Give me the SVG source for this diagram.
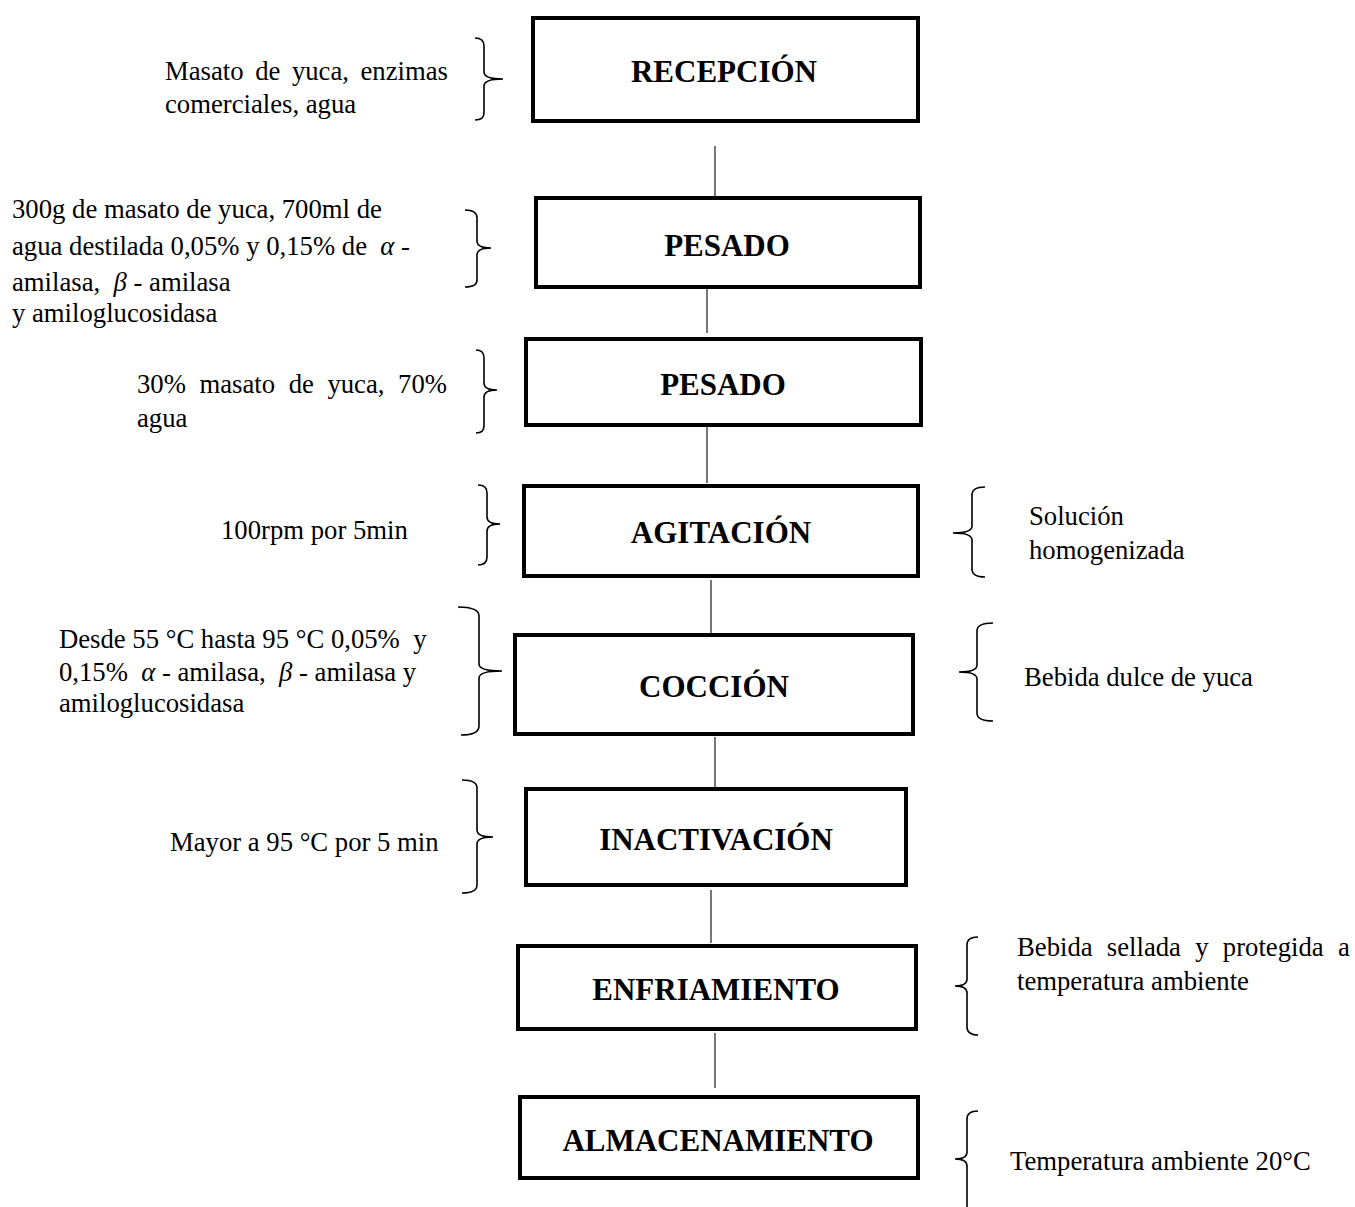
<svg xmlns="http://www.w3.org/2000/svg" width="1355" height="1207" viewBox="0 0 1355 1207">
<style>
.box{fill:#fff;stroke:#000;stroke-width:4}
.ttl{font-family:"Liberation Serif","Times New Roman",serif;font-weight:bold;font-size:31px;fill:#000;text-anchor:middle}
.ann{font-family:"Liberation Serif","Times New Roman",serif;font-size:26.7px;fill:#000;white-space:pre}
.gr{font-style:italic}
.brace{fill:none;stroke:#000;stroke-width:1.6}
.conn{stroke:#555;stroke-width:1.6}
</style>
<rect width="1355" height="1207" fill="#fff"/>
<g id="connectors">
<line class="conn" x1="715" y1="146" x2="715" y2="201"/>
<line class="conn" x1="707" y1="278" x2="707" y2="333"/>
<line class="conn" x1="707" y1="427" x2="707" y2="483"/>
<line class="conn" x1="711" y1="580" x2="711" y2="633"/>
<line class="conn" x1="715" y1="737" x2="715" y2="787"/>
<line class="conn" x1="711" y1="890" x2="711" y2="943"/>
<line class="conn" x1="715" y1="1033" x2="715" y2="1088"/>
</g>
<g id="n1"><rect class="box" x="533" y="18" width="385" height="103"/><text class="ttl" x="724" y="82">RECEPCIÓN</text></g>
<g id="n2"><rect class="box" x="536" y="198" width="384" height="89"/><text class="ttl" x="727" y="256">PESADO</text></g>
<g id="n3"><rect class="box" x="526" y="339" width="395" height="86"/><text class="ttl" x="723" y="395">PESADO</text></g>
<g id="n4"><rect class="box" x="524" y="486" width="394" height="90"/><text class="ttl" x="721" y="543">AGITACIÓN</text></g>
<g id="n5"><rect class="box" x="515" y="635" width="398" height="99"/><text class="ttl" x="714" y="697">COCCIÓN</text></g>
<g id="n6"><rect class="box" x="526" y="789" width="380" height="96"/><text class="ttl" x="716" y="850">INACTIVACIÓN</text></g>
<g id="n7"><rect class="box" x="518" y="946" width="398" height="83"/><text class="ttl" x="716" y="1000">ENFRIAMIENTO</text></g>
<g id="n8"><rect class="box" x="520" y="1097" width="398" height="81"/><text class="ttl" x="718" y="1151">ALMACENAMIENTO</text></g>
<g id="a1">
<path class="brace" d="M475,38 Q484,38 484,46 L484,72 Q484,79 503,79 Q484,79 484,86 L484,113 Q484,120 475,120"/>
<text class="ann" x="165" y="80" word-spacing="4.9">Masato de yuca, enzimas</text>
<text class="ann" x="165" y="113">comerciales, agua</text>
</g>
<g id="a2">
<path class="brace" d="M465,210 Q477,210 477,218 L477,241 Q477,248 491,248 Q477,248 477,255 L477,280 Q477,287 465,287"/>
<text class="ann" x="12" y="218">300g de masato de yuca, 700ml de</text>
<text class="ann" x="12" y="255">agua destilada 0,05% y 0,15% de  <tspan class="gr">α</tspan> -</text>
<text class="ann" x="12" y="291">amilasa,  <tspan class="gr">β</tspan> - amilasa</text>
<text class="ann" x="12" y="322">y amiloglucosidasa</text>
</g>
<g id="a3">
<path class="brace" d="M476,350 Q484,350 484,358 L484,383 Q484,390 497,390 Q484,390 484,397 L484,426 Q484,433 476,433"/>
<text class="ann" x="137" y="393" word-spacing="6.9">30% masato de yuca, 70%</text>
<text class="ann" x="137" y="427">agua</text>
</g>
<g id="a4">
<path class="brace" d="M478,485 Q487,485 487,493 L487,517 Q487,524 500,524 Q487,524 487,531 L487,557 Q487,565 478,565"/>
<text class="ann" x="221" y="539">100rpm por 5min</text>
</g>
<g id="a5">
<path class="brace" d="M458,607 Q479,607 479,616 L479,664 Q479,671 502,671 Q479,671 479,678 L479,726 Q479,735 461,735"/>
<text class="ann" x="59" y="648">Desde 55 °C hasta 95 °C 0,05%  y</text>
<text class="ann" x="59" y="681">0,15%  <tspan class="gr">α</tspan> - amilasa,  <tspan class="gr">β</tspan> - amilasa y</text>
<text class="ann" x="59" y="712">amiloglucosidasa</text>
</g>
<g id="a6">
<path class="brace" d="M462,780 Q477,780 477,788 L477,830 Q477,837 493,837 Q477,837 477,844 L477,885 Q477,893 462,893"/>
<text class="ann" x="170" y="851">Mayor a 95 °C por 5 min</text>
</g>
<g id="a7">
<path class="brace" d="M985,487 Q972,487 972,495 L972,526 Q972,533 953,533 Q972,533 972,540 L972,569 Q972,577 985,577"/>
<text class="ann" x="1029" y="525">Solución</text>
<text class="ann" x="1029" y="559">homogenizada</text>
</g>
<g id="a8">
<path class="brace" d="M993,623 Q977,623 977,631 L977,665 Q977,672 959,672 Q977,672 977,679 L977,713 Q977,721 993,721"/>
<text class="ann" x="1024" y="686">Bebida dulce de yuca</text>
</g>
<g id="a9">
<path class="brace" d="M978,937 Q967,937 967,945 L967,979 Q967,986 955,986 Q967,986 967,993 L967,1027 Q967,1035 978,1035"/>
<text class="ann" x="1017" y="956" word-spacing="7.6">Bebida sellada y protegida a</text>
<text class="ann" x="1017" y="990">temperatura ambiente</text>
</g>
<g id="a10">
<path class="brace" d="M978,1111 Q967,1111 967,1119 L967,1152 Q967,1159 955,1159 Q967,1159 967,1166 L967,1210"/>
<text class="ann" x="1010" y="1170">Temperatura ambiente 20°C</text>
</g>
</svg>
